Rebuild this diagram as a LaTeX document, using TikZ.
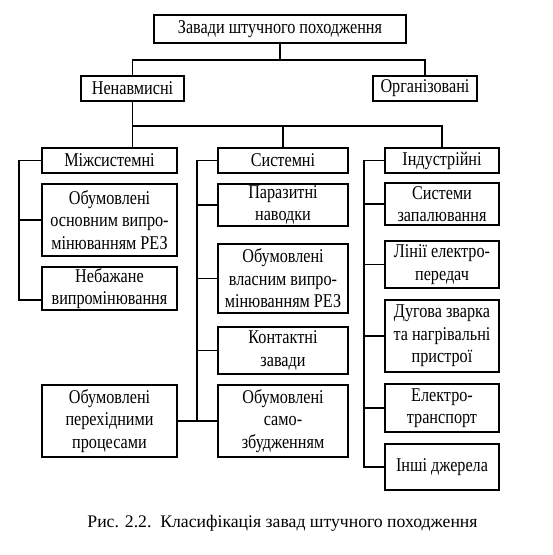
\documentclass[tikz,border=0pt]{standalone}
\usepackage{fontspec}
\setmainfont{Liberation Serif}
\newfontfamily\boxfont[FakeStretch=0.83]{Liberation Serif}
\usepackage{tikz}
\usetikzlibrary{positioning, calc}
\tikzset{
  topbox/.style={
    rectangle, draw=black, line width=2pt, inner sep=0pt,
    minimum width=252pt, minimum height=28pt,
    align=center, font=\boxfont\fontsize{19.5}{22.5}\selectfont
  },
  headbox/.style={
    rectangle, draw=black, line width=1.5pt, inner sep=0pt,
    minimum height=25pt,
    align=center, font=\boxfont\fontsize{19.5}{22.5}\selectfont
  },
  leafbox/.style={
    rectangle, draw=black, line width=1.5pt, inner sep=0pt,
    align=center, font=\boxfont\fontsize{19.5}{22.5}\selectfont
  },
  link/.style={line width=1.7pt, color=black},
}
\begin{document}
\begin{tikzpicture}[x=1pt, y=-1pt]
  \useasboundingbox (0,0) rectangle (553,555);

  \node (top)    [topbox]                      at (280,29)    {Завади штучного походження};
  \node (nenav)  [headbox, minimum width=103pt] at (132.5,88.5) {Ненавмисні};
  \node (org)    [headbox, minimum width=104pt] at (425,88.5)   {Організовані};

  \node (mizh)   [headbox, minimum width=135pt] at (109.5,160.5) {Міжсистемні};
  \node (syst)   [headbox, minimum width=130pt] at (283,160.5)   {Системні};
  \node (ind)    [headbox, minimum width=114pt] at (442,160.5)   {Індустрійні};

  \node (osn)    [leafbox, minimum width=135pt, minimum height=72pt] at (109.5,220)   {Обумовлені\\основним випро-\\мінюванням РЕЗ};
  \node (nebazh) [leafbox, minimum width=135pt, minimum height=43pt] at (109.5,288.5) {Небажане\\випромінювання};
  \node (perekh) [leafbox, minimum width=135pt, minimum height=72pt] at (109.5,421)   {Обумовлені\\перехідними\\процесами};

  \node (paraz)  [leafbox, minimum width=130pt, minimum height=42pt] at (283,205)   {Паразитні\\наводки};
  \node (vlasn)  [leafbox, minimum width=130pt, minimum height=69pt] at (283,278.5) {Обумовлені\\власним випро-\\мінюванням РЕЗ};
  \node (kontakt)[leafbox, minimum width=130pt, minimum height=47pt] at (283,350.5) {Контактні\\завади};
  \node (samo)   [leafbox, minimum width=130pt, minimum height=72pt] at (283,421)   {Обумовлені\\само-\\збудженням};

  \node (zapal)  [leafbox, minimum width=114pt, minimum height=42pt] at (442,204)   {Системи\\запалювання};
  \node (linii)  [leafbox, minimum width=114pt, minimum height=47pt] at (442,264.5) {Лінії електро-\\передач};
  \node (dug)    [leafbox, minimum width=114pt, minimum height=72pt] at (442,336)   {Дугова зварка\\та нагрівальні\\пристрої};
  \node (transp) [leafbox, minimum width=114pt, minimum height=48pt] at (442,408)   {Електро-\\транспорт};
  \node (inshi)  [leafbox, minimum width=114pt, minimum height=46pt] at (442,467)   {Інші джерела};

  \node (caption) [font=\fontsize{17.7}{20}\selectfont] at (282.5,523) {Рис. 2.2.\ \ Класифікація завад штучного походження};

  \coordinate (fork) at (280,60);
  \coordinate (bus)  at (0,126);

  \draw [link] (top.south) -- (fork);
  \draw [link] (fork) -| (nenav.north);
  \draw [link] (fork) -| (org.north);

  \draw [link] (nenav.south) -- (nenav.south |- mizh.north);
  \draw [link] (nenav.south |- bus) -| (ind.north);
  \draw [link] (syst.north |- bus) -- (syst.north);

  \draw [link] (mizh.west) -- ++(-22,0) |- ([yshift=-11.5pt]nebazh.west);
  \draw [link] (osn.west) -- ++(-22,0);

  \draw [link] (syst.west) -- ++(-20,0) |- (samo.west);
  \draw [link] (paraz.west) -- ++(-20,0);
  \draw [link] (vlasn.west) -- ++(-20,0);
  \draw [link] (kontakt.west) -- ++(-20,0);
  \draw [link] (perekh.east) -- (samo.west);

  \draw [link] (ind.west) -- ++(-20,0) |- (inshi.west);
  \draw [link] (zapal.west) -- ++(-20,0);
  \draw [link] (linii.west) -- ++(-20,0);
  \draw [link] (dug.west) -- ++(-20,0);
  \draw [link] (transp.west) -- ++(-20,0);
\end{tikzpicture}
\end{document}
